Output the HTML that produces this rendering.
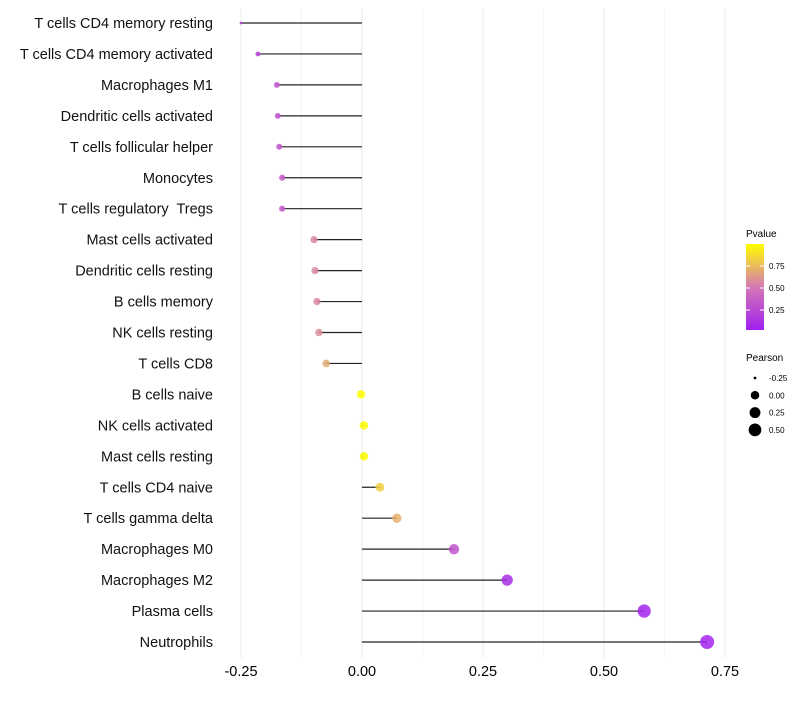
<!DOCTYPE html>
<html><head><meta charset="utf-8"><style>
body{margin:0;background:#fff;font-family:"Liberation Sans",sans-serif}
text{white-space:pre}
</style></head><body>
<svg id="chart" width="800" height="700" xmlns="http://www.w3.org/2000/svg" font-family="Liberation Sans, sans-serif"></svg>
<script>
const categories=["T cells CD4 memory resting","T cells CD4 memory activated","Macrophages M1","Dendritic cells activated","T cells follicular helper","Monocytes","T cells regulatory  Tregs","Mast cells activated","Dendritic cells resting","B cells memory","NK cells resting","T cells CD8","B cells naive","NK cells activated","Mast cells resting","T cells CD4 naive","T cells gamma delta","Macrophages M0","Macrophages M2","Plasma cells","Neutrophils"];
const pearson=[-0.25,-0.215,-0.176,-0.174,-0.171,-0.165,-0.165,-0.099,-0.097,-0.093,-0.089,-0.074,-0.002,0.004,0.004,0.037,0.072,0.19,0.30,0.583,0.713];
const pvalue=[0.12,0.2,0.3,0.3,0.3,0.32,0.32,0.55,0.55,0.55,0.58,0.68,1.0,0.99,0.99,0.82,0.7,0.3,0.08,0.03,0.02];
const xTicks=[-0.25,0,0.25,0.5,0.75];
const xTickLabels=["-0.25","0.00","0.25","0.50","0.75"];
const pTicks=[0.25,0.5,0.75];
const sizeTicks=[-0.25,0,0.25,0.5];

const svg=document.getElementById('chart');
const NS="http://www.w3.org/2000/svg";
function mk(t,a,p){const e=document.createElementNS(NS,t);for(const k in a)e.setAttribute(k,a[k]);(p||svg).appendChild(e);return e;}
const xS=v=>362+v*484;
const yS=i=>23+i*30.95;
const rS=v=>1.4+5.6*Math.sqrt(Math.max(0,v+0.25)/0.96);
function lerp(a,b,t){return a.map((x,i)=>Math.round(x+(b[i]-x)*t));}
function col(p){const lo=[160,32,240],mid=[212,120,180],hi=[255,255,0];const c=p<0.5?lerp(lo,mid,p/0.5):lerp(mid,hi,(p-0.5)/0.5);return `rgb(${c})`;}

for(let v=-0.25;v<=0.751;v+=0.125){
  const g=mk('line',{x1:xS(v),x2:xS(v),y1:8,y2:658,stroke:Math.round(v*8)%2==0?'#ebebeb':'#f4f4f4','stroke-width':1});
  
  
}
xTicks.forEach((v,i)=>{
  const t=mk('text',{x:xS(v),y:676,'text-anchor':'middle','font-size':14.5,fill:'#000'});t.textContent=xTickLabels[i];
  
  
});
categories.forEach((c,i)=>{
  const y=yS(i);
  const t=mk('text',{x:213,y:y+5,'text-anchor':'end','font-size':14.5,fill:'#111'});t.textContent=c;
  
  
  const l=mk('line',{x1:xS(0),x2:xS(pearson[i]),y1:y,y2:y,stroke:'#222','stroke-width':1.2});
  
  
  const d=mk('circle',{cx:xS(pearson[i]),cy:y,r:rS(pearson[i]),fill:col(pvalue[i]),'fill-opacity':0.85});
  
  
});
const defs=mk('defs',{});
const lg=mk('linearGradient',{id:'pg',x1:0,y1:1,x2:0,y2:0},defs);
[0,0.25,0.5,0.75,1].forEach(o=>mk('stop',{offset:o,'stop-color':col(o)},lg));
const lt=mk('text',{x:746,y:237,'font-size':10});lt.textContent='Pvalue';


const cb=mk('rect',{x:746,y:244,width:18,height:86,fill:'url(#pg)'});


pTicks.forEach(p=>{
  const y=332-p*88;
  mk('line',{x1:746,x2:750,y1:y,y2:y,stroke:'#fff'});mk('line',{x1:760,x2:764,y1:y,y2:y,stroke:'#fff'});
  const t=mk('text',{x:769,y:y+3,'font-size':8});t.textContent=p.toFixed(2);
  
  
});
const st=mk('text',{x:746,y:361,'font-size':10});st.textContent='Pearson';


sizeTicks.forEach((v,i)=>{
  const y=378+i*17.3;
  const c=mk('circle',{cx:755,cy:y,r:rS(v),fill:'#000'});
  
  
  const t=mk('text',{x:769,y:y+3,'font-size':8});t.textContent=v.toFixed(2);
  
  
});
</script>
</body></html>
